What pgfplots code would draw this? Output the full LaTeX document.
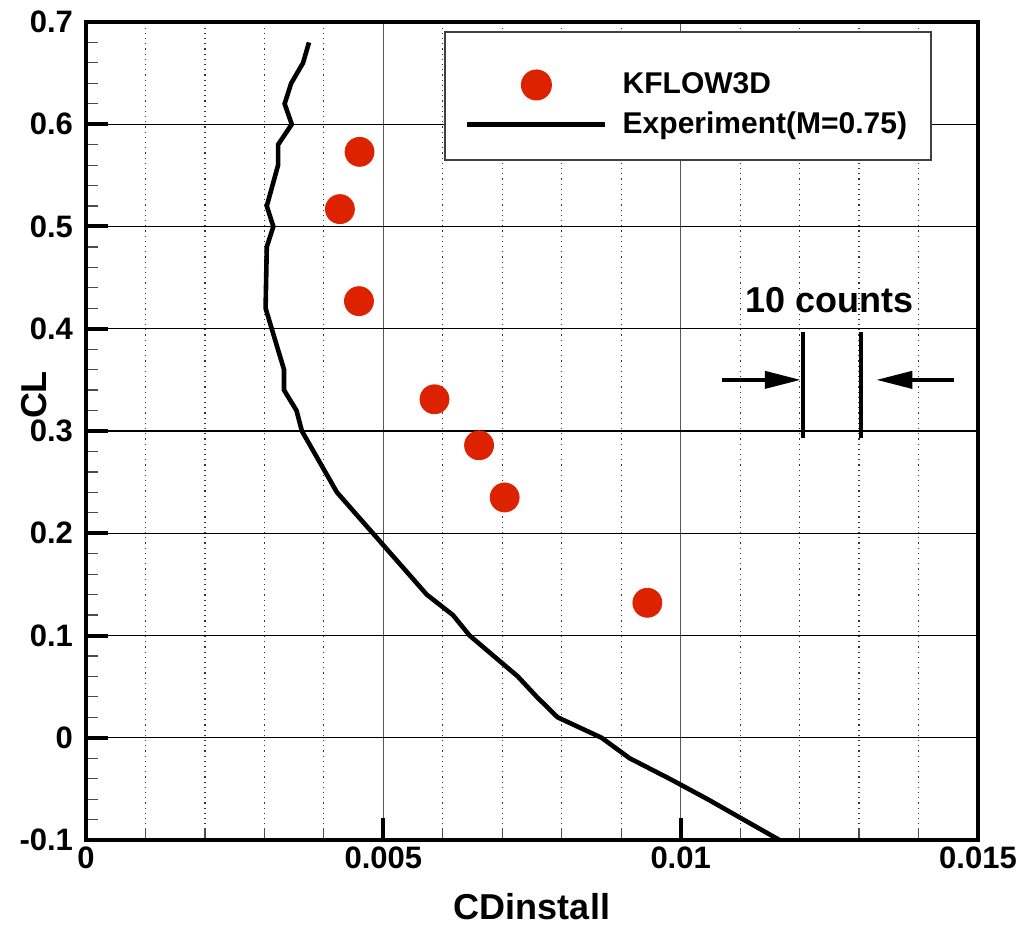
\documentclass[border=0pt]{standalone}
\usepackage{fontspec}
\setmainfont{Liberation Sans}
\usepackage{pgfplots}
\pgfplotsset{compat=1.18}
\usetikzlibrary{arrows.meta}
\definecolor{kred}{RGB}{221,34,0}
\pgfplotsset{
    legline/.style={legend image code/.code={\draw[##1] (0pt,0pt) -- (69pt,0pt);}},
    legmark/.style={legend image code/.code={\draw[##1, mark repeat=2, mark phase=2] plot coordinates {(0pt,0pt) (34.5pt,0pt) (69pt,0pt)};}},
}

\begin{document}
\begin{tikzpicture}
\begin{axis}[
    scale only axis,
    width=446pt, height=409pt,
    xmin=0, xmax=0.015,
    ymin=-0.1, ymax=0.7,
    xtick={0,0.005,0.01,0.015},
    xticklabels={0,0.005,0.01,0.015},
    ytick={-0.1,0,0.1,0.2,0.3,0.4,0.5,0.6,0.7},
    yticklabels={-0.1,0,0.1,0.2,0.3,0.4,0.5,0.6,0.7},
    scaled x ticks=false,
    minor x tick num=4,
    minor y tick num=4,
    tick pos=left,
    tick align=inside,
    major tick length=11pt,
    minor tick length=6pt,
    major tick style={line width=2pt, black},
    minor tick style={line width=0.6pt, black!70},
    axis line style={line width=2pt},
    xmajorgrids, ymajorgrids, xminorgrids,
    major x grid style={line width=0.6pt, black!65},
    major y grid style={line width=0.6pt, black},
    minor x grid style={line width=0.6pt, black!80, dotted},
    tick label style={font=\fontsize{15.5}{18}\selectfont\bfseries},
    yticklabel style={xshift=-3pt},
    xlabel={CDinstall},
    ylabel={CL},
    label style={font=\fontsize{18}{21}\selectfont\bfseries},
    xlabel style={at={(axis description cs:0.5,-0.081)}, anchor=center},
    ylabel style={at={(axis description cs:-0.058,0.544)}, anchor=center},
    legend style={at={(1,1)}, anchor=north east, xshift=-23pt, yshift=-4.5pt,
        draw=black!75, line width=1pt, fill=white,
        font=\fontsize{15}{18}\selectfont\bfseries,
        inner xsep=10pt, inner ysep=9.5pt, row sep=3.5pt, column sep=5.5pt},
    legend cell align=left,
]
\addlegendimage{empty legend}
\addlegendentry{}
\addplot[only marks, mark=*, mark size=7.25pt, color=kred, fill=kred, legmark]
    table {
x y
0.00460 0.573
0.00427 0.517
0.00459 0.427
0.00586 0.331
0.00661 0.286
0.00704 0.235
0.00944 0.132
};
\addlegendentry{KFLOW3D}
\addplot[black, line width=2.3pt, mark=none, legline]
    table {
x y
0.00375 0.68
0.00365 0.66
0.00345 0.64
0.00334 0.62
0.00346 0.60
0.00323 0.58
0.00323 0.56
0.00304 0.52
0.00315 0.50
0.00304 0.48
0.00302 0.42
0.00333 0.36
0.00333 0.34
0.00354 0.32
0.00363 0.30
0.00422 0.24
0.00573 0.14
0.00617 0.12
0.00645 0.10
0.00726 0.06
0.00758 0.04
0.00793 0.02
0.00867 0.00
0.00914 -0.02
0.00981 -0.04
0.01045 -0.06
0.01166 -0.10
};
\addlegendentry{Experiment(M=0.75)}
% 10 counts marker
\draw[line width=2pt] (axis cs:0.01205,0.397) -- (axis cs:0.01205,0.293);
\draw[line width=2pt] (axis cs:0.01304,0.397) -- (axis cs:0.01304,0.293);
\draw[line width=2pt, -{Triangle[length=18pt,width=8.5pt]}] (axis cs:0.01069,0.35) -- (axis cs:0.01202,0.35);
\draw[line width=2pt, -{Triangle[length=18pt,width=8.5pt]}] (axis cs:0.0146,0.35) -- (axis cs:0.01329,0.35);
\node[font=\fontsize{18}{21}\selectfont\bfseries] at (axis cs:0.0125,0.428) {10 counts};
\end{axis}
\pgfresetboundingbox
\path (current axis.south west) ++(-43pt,-48.5pt) rectangle ++(513.5pt,468.5pt);
\end{tikzpicture}
\end{document}
